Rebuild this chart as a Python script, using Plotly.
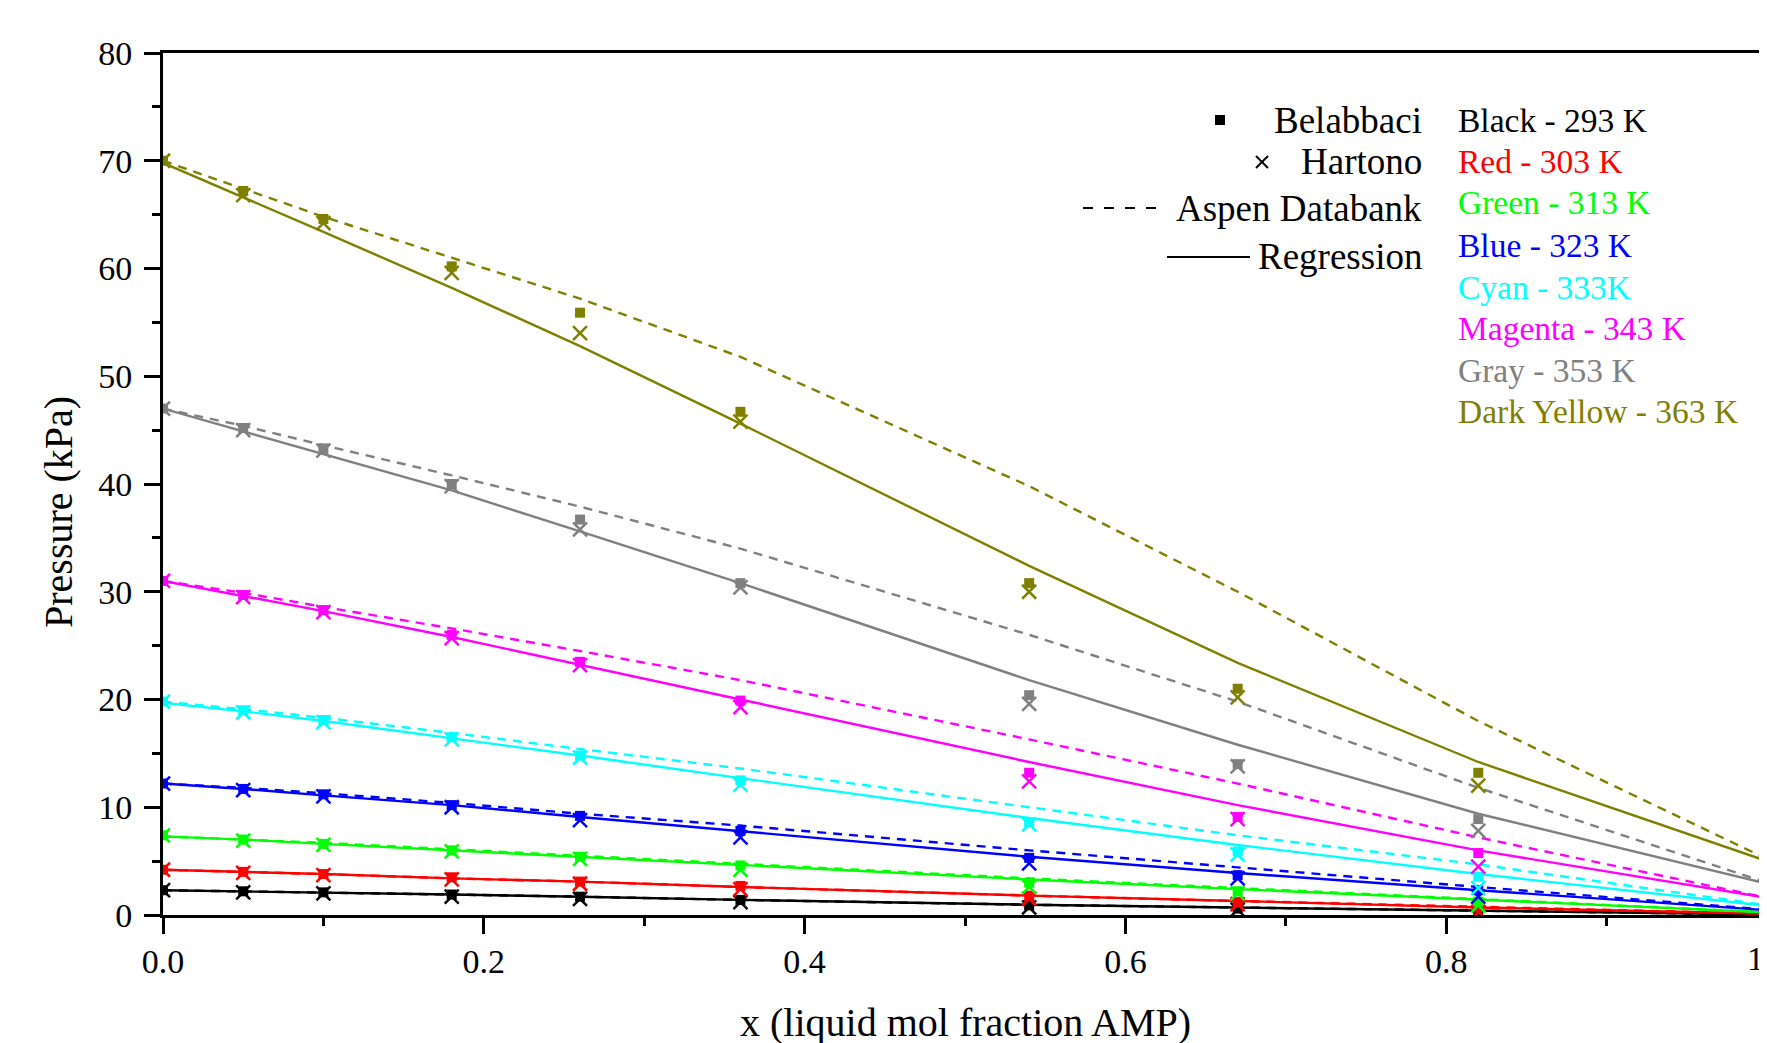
import plotly.graph_objects as go

# ---------------- data ----------------
x_amp = [0.0, 0.05, 0.10, 0.18, 0.26, 0.36, 0.54, 0.67, 0.82, 1.0]

temps = ["293 K", "303 K", "313 K", "323 K", "333K", "343 K", "353 K", "363 K"]
color_names = ["Black", "Red", "Green", "Blue", "Cyan", "Magenta", "Gray", "Dark Yellow"]
colors = ["#000000", "#FF0000", "#00FF00", "#0000FF", "#00FFFF", "#FF00FF", "#808080", "#808000"]

# Belabbaci experimental (squares)
belabbaci = [
    [2.3, 2.2, 2.1, 1.9, 1.7, 1.4, 0.9, 0.6, 0.35, 0.05],
    [4.2, 4.0, 3.8, 3.5, 3.1, 2.7, 1.8, 1.2, 0.7, 0.15],
    [7.4, 7.0, 6.6, 6.0, 5.4, 4.6, 3.0, 2.2, 1.25, 0.3],
    [12.2, 11.7, 11.2, 10.2, 9.2, 7.8, 5.3, 3.7, 2.3, 0.5],
    [19.8, 19.0, 18.1, 16.5, 14.8, 12.5, 8.6, 5.9, 3.55, 0.9],
    [31.0, 29.7, 28.3, 26.0, 23.5, 19.9, 13.2, 9.1, 5.75, 1.5],
    [47.0, 45.2, 43.3, 40.0, 36.7, 30.8, 20.4, 14.0, 8.9, 2.9],
    [70.0, 67.2, 64.6, 60.2, 55.9, 46.7, 30.8, 21.0, 13.2, 5.1],
]

# Hartono experimental (crosses)
hartono = [
    [2.3, 2.1, 2.0, 1.7, 1.5, 1.2, 0.7, 0.5, 0.2, 0.05],
    [4.2, 3.9, 3.7, 3.3, 2.9, 2.4, 1.5, 1.0, 0.3, 0.1],
    [7.4, 6.9, 6.5, 5.9, 5.2, 4.2, 2.6, 2.0, 0.9, 0.3],
    [12.2, 11.6, 11.0, 10.0, 8.8, 7.2, 4.8, 3.4, 1.7, 0.5],
    [19.8, 18.8, 17.9, 16.3, 14.6, 12.1, 8.4, 5.6, 2.5, 0.9],
    [31.0, 29.5, 28.1, 25.7, 23.2, 19.3, 12.4, 8.9, 4.5, 1.5],
    [47.0, 45.0, 43.1, 39.8, 35.8, 30.4, 19.6, 13.8, 7.8, 2.8],
    [70.0, 66.8, 64.2, 59.6, 54.0, 45.8, 30.0, 20.2, 12.0, 5.0],
]

# Aspen Databank (dashed)
aspen = [
    [2.3, 2.2, 2.1, 1.9, 1.7, 1.4, 0.95, 0.7, 0.4, 0.05],
    [4.2, 4.0, 3.8, 3.4, 3.1, 2.6, 1.8, 1.3, 0.75, 0.12],
    [7.3, 7.0, 6.7, 6.1, 5.5, 4.8, 3.4, 2.5, 1.5, 0.25],
    [12.2, 11.8, 11.3, 10.4, 9.4, 8.3, 6.0, 4.4, 2.6, 0.5],
    [19.8, 19.1, 18.3, 16.9, 15.4, 13.6, 10.0, 7.4, 4.7, 0.9],
    [31.0, 29.9, 28.6, 26.6, 24.5, 21.8, 16.3, 12.2, 7.2, 1.6],
    [47.0, 45.4, 43.6, 40.8, 37.9, 34.0, 26.0, 19.8, 11.8, 3.0],
    [70.0, 67.4, 64.8, 61.0, 57.2, 51.8, 39.8, 30.0, 18.0, 5.2],
]

# Regression (solid)
regression = [
    [2.3, 2.2, 2.1, 1.9, 1.7, 1.4, 0.95, 0.7, 0.35, 0.05],
    [4.2, 4.0, 3.8, 3.4, 3.1, 2.6, 1.8, 1.3, 0.7, 0.12],
    [7.3, 7.0, 6.6, 6.0, 5.4, 4.7, 3.3, 2.4, 1.45, 0.25],
    [12.2, 11.7, 11.1, 10.2, 9.1, 7.8, 5.4, 3.9, 2.3, 0.45],
    [19.7, 18.9, 18.0, 16.4, 14.8, 12.7, 9.0, 6.5, 3.8, 0.85],
    [31.0, 29.6, 28.2, 25.8, 23.2, 20.0, 14.2, 10.2, 6.0, 1.6],
    [47.0, 44.9, 42.8, 39.4, 35.6, 30.8, 21.8, 15.8, 9.4, 2.9],
    [69.8, 66.6, 63.4, 58.2, 52.8, 45.6, 32.4, 23.4, 14.2, 5.0],
]

x_tick_vals = [0.0, 0.2, 0.4, 0.6, 0.8, 1.0]
x_tick_text = ["0.0", "0.2", "0.4", "0.6", "0.8", "1"]
y_tick_vals = [0, 10, 20, 30, 40, 50, 60, 70, 80]

method_labels = ["Belabbaci", "Hartono", "Aspen Databank", "Regression"]

# ---------------- figure ----------------
# The page body adds an 8 px offset; page-pixel targets are converted below.
OFF = 8
W, H = 1767, 1043
ML, MR, MT, MB = 163 - OFF, OFF, 53 - OFF, 136
PW, PH = W - ML - MR, H - MT - MB
FONT = "Liberation Serif"


def px2x(px):
    return (px - OFF - ML) / PW


def px2y(py):
    return (H - MB - (py - OFF)) / PH


fig = go.Figure()

for i, c in enumerate(colors):
    fig.add_trace(go.Scatter(
        x=x_amp, y=aspen[i], mode="lines",
        line=dict(color=c, width=2.4, dash="9px,7px"), showlegend=False))
    fig.add_trace(go.Scatter(
        x=x_amp, y=regression[i], mode="lines",
        line=dict(color=c, width=2.4), showlegend=False))
    fig.add_trace(go.Scatter(
        x=x_amp, y=belabbaci[i], mode="markers",
        marker=dict(symbol="square", size=10, color=c, line=dict(width=0)),
        showlegend=False))
    fig.add_trace(go.Scatter(
        x=x_amp, y=hartono[i], mode="markers",
        marker=dict(symbol="x-thin", size=14, color=c,
                    line=dict(color=c, width=2.5)),
        showlegend=False))

axis_common = dict(
    showline=True, linewidth=3, linecolor="black", mirror=True,
    ticks="outside", ticklen=16, tickwidth=3, tickcolor="black",
    showgrid=False, zeroline=False, automargin=False,
    tickfont=dict(family=FONT, size=34, color="black"),
)

# the last x label ("1") sits at the window edge; it is drawn as a right-anchored
# annotation so it stays visible, the others come from the axis
fig.update_xaxes(
    range=[0, 1], tickmode="array", tickvals=x_tick_vals,
    ticktext=x_tick_text[:-1] + [""],
    minor=dict(tickmode="linear", tick0=0, dtick=0.1, ticks="outside",
               ticklen=8, tickwidth=3, tickcolor="black"),
    ticklabelstandoff=-2,
    **axis_common)
fig.update_yaxes(
    range=[0, 80], tickmode="array", tickvals=y_tick_vals,
    minor=dict(tickmode="linear", tick0=0, dtick=5, ticks="outside",
               ticklen=8, tickwidth=3, tickcolor="black"),
    ticklabelstandoff=5,
    **axis_common)

annotations = []
annotations.append(dict(
    text=x_tick_text[-1], xref="x", yref="paper", x=x_tick_vals[-1], y=px2y(958),
    xanchor="right", yanchor="middle", xshift=-1, showarrow=False,
    font=dict(family=FONT, size=34, color="black")))
# axis titles
annotations.append(dict(
    text="x (liquid mol fraction AMP)", xref="paper", yref="paper",
    x=px2x(965), y=px2y(1022), xanchor="center", yanchor="middle",
    showarrow=False, font=dict(family=FONT, size=40, color="black")))
annotations.append(dict(
    text="Pressure (kPa)", xref="paper", yref="paper",
    x=px2x(58), y=px2y(512), xanchor="center", yanchor="middle",
    textangle=-90, showarrow=False, font=dict(family=FONT, size=40, color="black")))

# legend: methods (right aligned)
left_y = [120, 162, 208, 257]
for lab, yy in zip(method_labels, left_y):
    annotations.append(dict(
        text=lab, xref="paper", yref="paper", x=px2x(1424), y=px2y(yy),
        xanchor="right", yanchor="middle", showarrow=False,
        font=dict(family=FONT, size=37, color="black")))

# legend: temperatures (colored text)
right_y = [120, 162, 203, 245, 287, 328, 370, 412]
for cname, t, c, yy in zip(color_names, temps, colors, right_y):
    annotations.append(dict(
        text=f"{cname} - {t}", xref="paper", yref="paper", x=px2x(1456), y=px2y(yy),
        xanchor="left", yanchor="middle", showarrow=False,
        font=dict(family=FONT, size=33.5, color=c)))

shapes = []
# square sample
shapes.append(dict(type="rect", xref="paper", yref="paper",
                   x0=px2x(1215), x1=px2x(1225), y0=px2y(125), y1=px2y(115),
                   fillcolor="black", line=dict(width=0)))
# x sample
shapes.append(dict(type="line", xref="paper", yref="paper",
                   x0=px2x(1256), y0=px2y(156), x1=px2x(1268), y1=px2y(168),
                   line=dict(color="black", width=2)))
shapes.append(dict(type="line", xref="paper", yref="paper",
                   x0=px2x(1256), y0=px2y(168), x1=px2x(1268), y1=px2y(156),
                   line=dict(color="black", width=2)))
# dashed sample
shapes.append(dict(type="line", xref="paper", yref="paper",
                   x0=px2x(1083), y0=px2y(208), x1=px2x(1157), y1=px2y(208),
                   line=dict(color="black", width=2, dash="10px,11px")))
# solid sample
shapes.append(dict(type="line", xref="paper", yref="paper",
                   x0=px2x(1167), y0=px2y(257), x1=px2x(1250), y1=px2y(257),
                   line=dict(color="black", width=2.2)))

fig.update_layout(
    width=W, height=H,
    margin=dict(l=ML, r=MR, t=MT, b=MB, pad=0),
    paper_bgcolor="white", plot_bgcolor="white",
    showlegend=False,
    font=dict(family=FONT, size=34, color="black"),
    annotations=annotations, shapes=shapes,
)

fig.write_html("out.html")
